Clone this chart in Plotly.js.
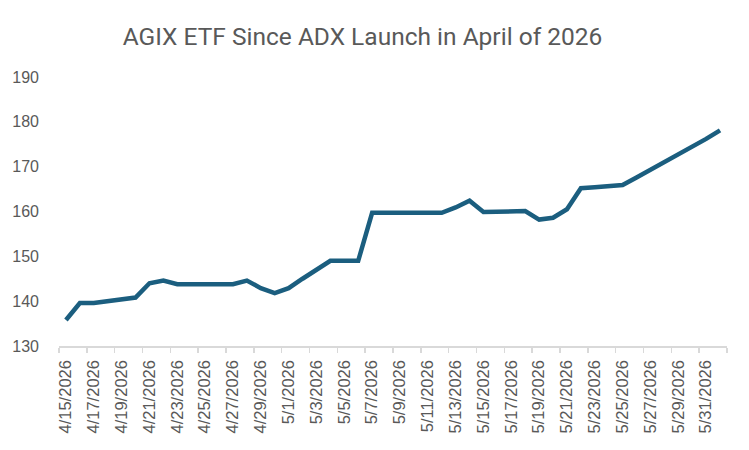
<!DOCTYPE html>
<html>
<head>
<meta charset="utf-8">
<script src="https://cdn.plot.ly/plotly-3.0.1.min.js"></script>
<style>html,body{margin:0;padding:0;background:#fff;}#chart{width:749px;height:450px;}</style>
</head>
<body>
<div id="chart"></div>
<script>
var dates = ['2026-04-15','2026-04-16','2026-04-17','2026-04-18','2026-04-19','2026-04-20','2026-04-21','2026-04-22','2026-04-23','2026-04-24','2026-04-25','2026-04-26','2026-04-27','2026-04-28','2026-04-29','2026-04-30','2026-05-01','2026-05-02','2026-05-03','2026-05-04','2026-05-05','2026-05-06','2026-05-07','2026-05-08','2026-05-09','2026-05-10','2026-05-11','2026-05-12','2026-05-13','2026-05-14','2026-05-15','2026-05-16','2026-05-17','2026-05-18','2026-05-19','2026-05-20','2026-05-21','2026-05-22','2026-05-23','2026-05-24','2026-05-25','2026-05-26','2026-05-27','2026-05-28','2026-05-29','2026-05-30','2026-05-31','2026-06-01'];
var prices = [135.8,139.6,139.6,140.0,140.4,140.8,144.0,144.6,143.8,143.8,143.8,143.8,143.8,144.6,142.9,141.8,142.9,145.0,147.0,149.0,149.0,149.0,159.7,159.7,159.7,159.7,159.7,159.7,160.9,162.4,159.9,159.9,160.0,160.1,158.2,158.6,160.5,165.2,165.4,165.6,165.9,167.6,169.3,171.0,172.7,174.4,176.2,178.1];
var title = 'AGIX ETF Since ADX Launch in April of 2026';
var yTicks = [130,140,150,160,170,180,190];

var trace = {
  x: dates, y: prices, type: 'scatter', mode: 'lines',
  line: {color: '#1b5e7f', width: 4.5, shape: 'linear'},
  hoverinfo: 'skip'
};
var layout = {
  width: 749, height: 450,
  margin: {l: 59, r: 22, t: 77, b: 104},
  paper_bgcolor: '#ffffff', plot_bgcolor: '#ffffff',
  showlegend: false,
  title: {text: title, x: 0.484, xanchor: 'center', y: 0.92, yanchor: 'middle',
          font: {family: 'Roboto, "Open Sans", sans-serif', size: 24.5, color: '#595959'}},
  xaxis: {
    type: 'date',
    range: ['2026-04-14 12:00', '2026-06-01 12:00'],
    tick0: '2026-04-15', dtick: 2*86400000,
    tickformat: '%-m/%-d/%Y', tickangle: -90,
    ticks: '', showgrid: false, zeroline: false,
    showline: true, linecolor: '#d9d9d9', linewidth: 1.5,
    tickfont: {family: '"Liberation Sans", Arial, sans-serif', size: 16.5, color: '#595959'},
    ticklabelstandoff: 6,
    minor: {tick0: '2026-04-14 12:00', dtick: 2*86400000, ticks: 'outside', ticklen: 5, tickcolor: '#d9d9d9', tickwidth: 1.5, showgrid: false}
  },
  yaxis: {
    range: [130, 190], tickvals: yTicks,
    showgrid: false, zeroline: false, showline: false, ticks: '',
    tickfont: {family: '"Liberation Sans", Arial, sans-serif', size: 16, color: '#595959'},
    ticklabelstandoff: 19
  }
};
Plotly.newPlot('chart', [trace], layout, {displayModeBar: false, staticPlot: true});
</script>
</body>
</html>
